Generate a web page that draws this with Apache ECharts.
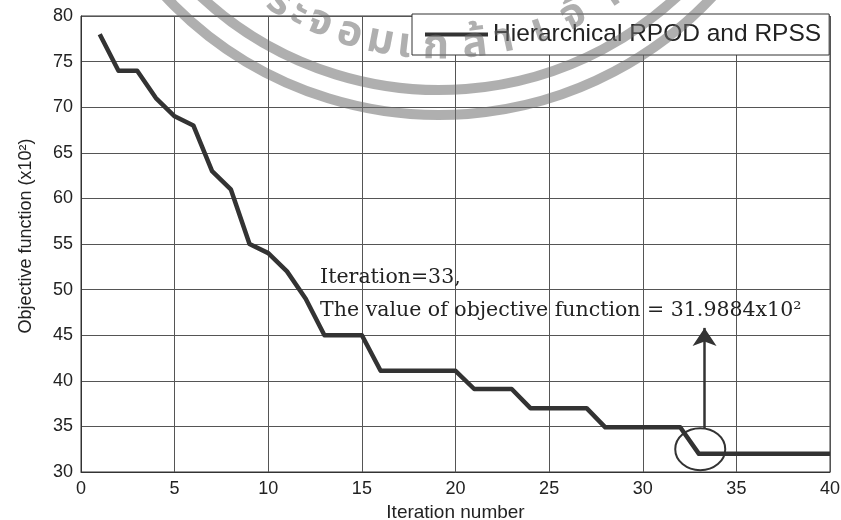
<!DOCTYPE html>
<html>
<head>
<meta charset="utf-8">
<script src="https://cdn.jsdelivr.net/npm/echarts@6/dist/echarts.min.js"></script>
<style>
  html, body { margin: 0; padding: 0; background: #fff; }
  #chart { width: 841px; height: 520px; }
</style>
</head>
<body>
<div id="chart"></div>
<script>
// Convergence of the objective function per iteration
const iterations = [1, 2, 3, 4, 5, 6, 7, 8, 9, 10,
                    11, 12, 13, 14, 15, 16, 17, 18, 19, 20,
                    21, 22, 23, 24, 25, 26, 27, 28, 29, 30,
                    31, 32, 33, 34, 35, 36, 37, 38, 39, 40];
const objective = [78, 74, 74, 71, 69, 68, 63, 61, 55, 54,
                   52, 49, 45, 45, 45, 41.1, 41.1, 41.1, 41.1, 41.1,
                   39.1, 39.1, 39.1, 37.0, 37.0, 37.0, 37.0, 34.9, 34.9, 34.9,
                   34.9, 34.9, 31.9884, 31.9884, 31.9884, 31.9884, 31.9884, 31.9884, 31.9884, 31.9884];
const seriesName = 'Hierarchical RPOD and RPSS';
const noteLines = ['Iteration=33,', 'The value of objective function = 31.9884x10\u00B2'];

// Annotation anchors in data units
const noteAnchor = [12.77, 51.3];
const noteAnchor2 = [12.77, 47.7];
const arrowFrom = [33.3, 34.8];
const arrowTo = [33.3, 45.8];
const circleCenter = [33.07, 32.5];

// Seal watermark (page decoration)
const sealChars = ['ร', 'ะ', 'จ', 'อ', 'ม', 'เ', 'ก', 'ล้', 'า', 'เ', 'จ้', 'า'];
const sealCharX = [278, 298, 319, 349, 380, 404, 436, 475, 505, 540, 575, 610];

const sans = '"Liberation Sans", Arial, sans-serif';
const serif = '"DejaVu Serif", serif';
const ink = '#333';

const chart = echarts.init(document.getElementById('chart'), null, { renderer: 'canvas' });

chart.setOption({
  animation: false,
  backgroundColor: '#fff',
  grid: {
    left: 81, right: 11, top: 16, bottom: 48,
    containLabel: false, outerBoundsMode: 'none',
    show: true, borderColor: ink, borderWidth: 1
  },
  legend: {
    data: [seriesName],
    left: 412, top: 14,
    backgroundColor: '#fff',
    borderColor: ink, borderWidth: 1, borderRadius: 0,
    padding: [8, 8, 8, 13],
    icon: 'rect', itemWidth: 63, itemHeight: 4,
    textStyle: { fontFamily: sans, fontSize: 24.5, color: '#222' }
  },
  xAxis: {
    type: 'value', min: 0, max: 40, interval: 5,
    name: 'Iteration number', nameLocation: 'middle', nameGap: 25,
    nameTextStyle: { fontFamily: sans, fontSize: 19, color: '#222' },
    axisLine: { show: true, onZero: false, lineStyle: { color: ink, width: 1 } },
    axisTick: { show: false },
    axisLabel: { fontFamily: sans, fontSize: 18, color: '#222', margin: 8 },
    splitLine: { show: true, lineStyle: { color: '#555', width: 1 } }
  },
  yAxis: {
    type: 'value', min: 30, max: 80, interval: 5,
    name: 'Objective function (x10\u00B2)', nameLocation: 'middle', nameGap: 46, nameRotate: 90,
    nameTextStyle: { fontFamily: sans, fontSize: 18, color: '#222', padding: [0, 0, 0, 16] },
    axisLine: { show: true, lineStyle: { color: ink, width: 1 } },
    axisTick: { show: false },
    axisLabel: { fontFamily: sans, fontSize: 18, color: '#222', margin: 8 },
    splitLine: { show: true, lineStyle: { color: '#555', width: 1 } }
  },
  series: [{
    type: 'line',
    name: seriesName,
    data: iterations.map((it, i) => [it, objective[i]]),
    symbol: 'none',
    lineStyle: { color: ink, width: 4.5, join: 'round' },
    itemStyle: { color: ink },
    z: 3,
    markLine: {
      silent: true,
      symbol: ['none', 'arrow'],
      symbolSize: 18,
      label: { show: false },
      lineStyle: { color: ink, width: 2.5, type: 'solid' },
      data: [[{ coord: arrowFrom }, { coord: arrowTo }]]
    }
  }]
});

const toPx = (p) => chart.convertToPixel({ gridIndex: 0 }, p);
const [cx, cy] = toPx(circleCenter);
const [n1x, n1y] = toPx(noteAnchor);
const [n2x, n2y] = toPx(noteAnchor2);

// Seal ring geometry
const sealCx = 439, sealCy = -260, sealTextR = 310;
const sealColor = 'rgba(110,110,110,0.55)';
const sealText = sealChars.map((ch, i) => {
  const dx = sealCharX[i] - sealCx;
  const dy = Math.sqrt(sealTextR * sealTextR - dx * dx);
  const phi = Math.atan2(dy, dx);
  return {
    type: 'text', z: 50,
    x: sealCharX[i], y: sealCy + dy,
    rotation: Math.PI / 2 - phi,
    style: { text: ch, fill: sealColor, fontSize: 42, fontWeight: 'bold', fontFamily: '"Noto Sans Thai", "Noto Sans", sans-serif', align: 'center', verticalAlign: 'middle' }
  };
});

chart.setOption({
  graphic: [
    { type: 'ellipse', z: 10, shape: { cx: cx, cy: cy, rx: 25, ry: 21 }, style: { fill: null, stroke: ink, lineWidth: 2 } },
    { type: 'text', z: 10, x: n1x, y: n1y, style: { text: noteLines[0], font: '20.5px ' + serif, fill: '#222', verticalAlign: 'middle' } },
    { type: 'text', z: 10, x: n2x, y: n2y, style: { text: noteLines[1], font: '20.5px ' + serif, fill: '#222', verticalAlign: 'middle' } },
    { type: 'arc', z: 50, shape: { cx: sealCx, cy: sealCy, r: 350, startAngle: 0.3, endAngle: Math.PI - 0.3 }, style: { fill: null, stroke: sealColor, lineWidth: 10 } },
    { type: 'arc', z: 50, shape: { cx: sealCx, cy: sealCy, r: 375, startAngle: 0.3, endAngle: Math.PI - 0.3 }, style: { fill: null, stroke: sealColor, lineWidth: 10 } }
  ].concat(sealText)
});
</script>
</body>
</html>
